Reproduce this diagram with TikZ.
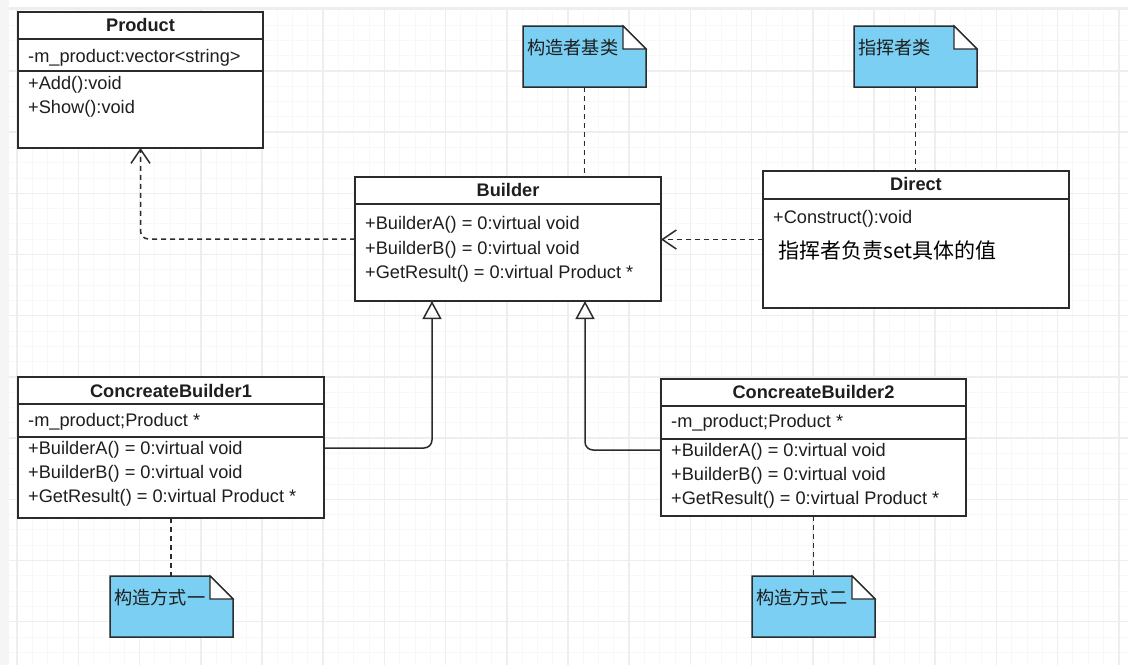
\documentclass[tikz,border=0pt]{standalone}
\usepackage{fontspec}
\setmainfont{Liberation Sans}
\newfontfamily\cjk{Noto Sans CJK SC}
\usetikzlibrary{positioning, calc, arrows.meta}

\definecolor{notefill}{RGB}{122,207,242}
\definecolor{linegray}{RGB}{43,43,43}
\definecolor{gridmajor}{RGB}{238,238,238}
\definecolor{gridminor}{RGB}{248,248,248}
\definecolor{framegray}{RGB}{238,238,238}
\definecolor{textdark}{RGB}{30,30,30}

\tikzset{
  umlbox/.style={draw=linegray, line width=1.6pt, fill=white, inner sep=0pt, outer sep=0pt},
  umlline/.style={draw=linegray, line width=1.6pt},
  umltitle/.style={font=\fontsize{18.2}{22}\selectfont\bfseries, text=textdark, inner sep=0pt},
  umlmember/.style={anchor=west, font=\fontsize{18.2}{22}\selectfont, text=textdark,
    inner sep=0pt, text height=13pt, text depth=0pt},
  notebox/.style={inner sep=0pt, outer sep=0pt, minimum width=123pt, minimum height=61pt},
  notetext/.style={anchor=west, font=\cjk\fontsize{18.2}{22}\selectfont, inner sep=0pt, text=textdark},
  dep/.style={draw=linegray, line width=1.5pt, dash pattern=on 5pt off 4pt, rounded corners=8pt,
    -{Straight Barb[length=14pt, width=19pt, line width=1.5pt]}},
  inherit/.style={draw=linegray, line width=1.5pt, rounded corners=8pt,
    -{Triangle[open, length=18pt, width=19pt, line width=1.5pt]}},
  notelink/.style={draw=linegray, line width=1.5pt, dash pattern=on 5pt off 4pt}
}

\begin{document}
\begin{tikzpicture}[x=1pt, y=-1pt]

    \useasboundingbox (0,0) rectangle (1134,665);

    % Canvas frame and grid
    \fill[white] (0,0) rectangle (1134,665);
    \fill[framegray!60] (0,0) rectangle (9,665);
    \fill[framegray] (9,6.5) rectangle (1128,9.5);
    \foreach \i in {0,...,72}
        \draw[gridminor, line width=1pt] ({17.2+15.3*\i},9.5) -- ++(0,655.5);
    \foreach \j in {1,...,42}
        \draw[gridminor, line width=1pt] (9,{9.7+15.3*\j}) -- (1128,{9.7+15.3*\j});
    \foreach \i in {0,...,18}
        \draw[gridmajor, line width=1.5pt] ({17.2+61.2*\i},9.5) -- ++(0,655.5);
    \foreach \j in {1,...,10}
        \draw[gridmajor, line width=1.5pt] (9,{9.7+61.2*\j}) -- (1128,{9.7+61.2*\j});

    % Product
    \node[umlbox, minimum width=245pt, minimum height=136pt] (product) at (140.5,80) {};
    \draw[umlline] (product.west |- 0,39) -- (product.east |- 0,39);
    \draw[umlline] (product.west |- 0,71) -- (product.east |- 0,71);
    \node[umltitle] (producttitle) at (140.5,25) {Product};
    \node[umlmember] (productattr) at (28,56) {-m\_product:vector<string>};
    \node[umlmember] (productadd) at (28,83) {+Add():void};
    \node[umlmember] (productshow) at (28,107) {+Show():void};

    % Builder
    \node[umlbox, minimum width=306pt, minimum height=124pt] (builder) at (508,239) {};
    \draw[umlline] (builder.west |- 0,204) -- (builder.east |- 0,204);
    \node[umltitle] (buildertitle) at (508,190) {Builder};
    \node[umlmember] (buildera) at (365,223) {+BuilderA() = 0:virtual void};
    \node[umlmember] (builderb) at (365,248) {+BuilderB() = 0:virtual void};
    \node[umlmember] (builderc) at (365,272) {+GetResult() = 0:virtual Product *};

    % Direct
    \node[umlbox, minimum width=306pt, minimum height=137pt] (direct) at (916,239.5) {};
    \draw[umlline] (direct.west |- 0,199) -- (direct.east |- 0,199);
    \node[umltitle] (directtitle) at (916,184) {Direct};
    \node[umlmember] (directa) at (773,217) {+Construct():void};
    \node[anchor=west, inner sep=0pt, text=black, font=\cjk\fontsize{21}{25}\selectfont]
        (directremark) at (778,250) {指挥者负责set具体的值};

    % ConcreateBuilder1
    \node[umlbox, minimum width=306pt, minimum height=141pt] (cbone) at (171,447.5) {};
    \draw[umlline] (cbone.west |- 0,404) -- (cbone.east |- 0,404);
    \draw[umlline] (cbone.west |- 0,437) -- (cbone.east |- 0,437);
    \node[umltitle] (cbonetitle) at (171,391) {ConcreateBuilder1};
    \node[umlmember] (cboneattr) at (28,420) {-m\_product;Product *};
    \node[umlmember] (cbonea) at (28,448) {+BuilderA() = 0:virtual void};
    \node[umlmember] (cboneb) at (28,472) {+BuilderB() = 0:virtual void};
    \node[umlmember] (cbonec) at (28,496) {+GetResult() = 0:virtual Product *};

    % ConcreateBuilder2
    \node[umlbox, minimum width=305pt, minimum height=137pt] (cbtwo) at (813.5,447.5) {};
    \draw[umlline] (cbtwo.west |- 0,406) -- (cbtwo.east |- 0,406);
    \draw[umlline] (cbtwo.west |- 0,439) -- (cbtwo.east |- 0,439);
    \node[umltitle] (cbtwotitle) at (813.5,392) {ConcreateBuilder2};
    \node[umlmember] (cbtwoattr) at (671,421) {-m\_product;Product *};
    \node[umlmember] (cbtwoa) at (671,450) {+BuilderA() = 0:virtual void};
    \node[umlmember] (cbtwob) at (671,474) {+BuilderB() = 0:virtual void};
    \node[umlmember] (cbtwoc) at (671,498) {+GetResult() = 0:virtual Product *};

    % Notes
    \node[notebox] (notebuilder) at (584.5,56.5) {};
    \node[notebox] (notedirect) at (915.5,56.5) {};
    \node[notebox] (noteone) at (171.5,606.5) {};
    \node[notebox] (notetwo) at (813.5,606.5) {};
    \foreach \n in {notebuilder, notedirect, noteone, notetwo} {
        \draw[draw=linegray, line width=1.5pt, fill=notefill, line join=miter]
            (\n.south west) -- (\n.north west) -- ($(\n.north east)+(-23,0)$)
            -- ($(\n.north east)+(0,23)$) -- (\n.south east) -- cycle;
        \draw[draw=linegray, line width=1.2pt, fill=white]
            ($(\n.north east)+(-23,0)$) -- ++(0,23) -- ($(\n.north east)+(0,23)$) -- cycle;
    }
    \node[notetext] (notebuildertext) at ($(notebuilder.north west)+(4,22)$) {构造者基类};
    \node[notetext] (notedirecttext) at ($(notedirect.north west)+(4,22)$) {指挥者类};
    \node[notetext] (noteonetext) at ($(noteone.north west)+(4,22)$) {构造方式一};
    \node[notetext] (notetwotext) at ($(notetwo.north west)+(4,22)$) {构造方式二};

    % Note links
    \draw[notelink] (notebuilder.south) -- (notebuilder.south |- builder.north);
    \draw[notelink] (notedirect.south) -- (notedirect.south |- direct.north);
    \draw[notelink] (cbone.south) -- (cbone.south |- noteone.north);
    \draw[notelink] (cbtwo.south) -- (cbtwo.south |- notetwo.north);

    % Dependencies
    \draw[dep] (builder.west) -| (product.south);
    \draw[dep] (direct.west) -- (direct.west -| builder.east);

    % Inheritance
    \draw[inherit] (cbonea -| cbone.east) -| ($(builder.south west)+(77,0)$);
    \draw[inherit] (cbtwoa -| cbtwo.west) -| ($(builder.south west)+(230,0)$);

\end{tikzpicture}
\end{document}
